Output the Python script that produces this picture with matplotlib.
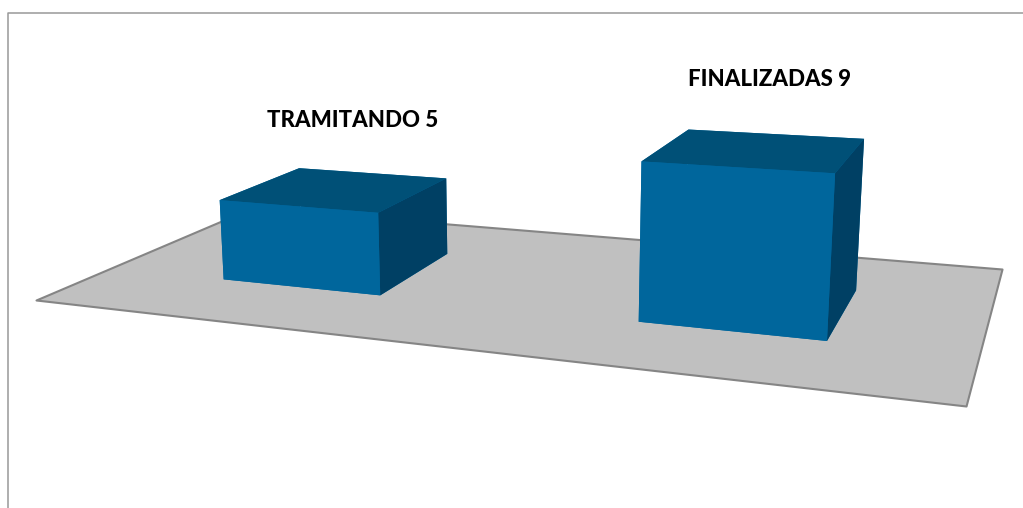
import numpy as np
import matplotlib
matplotlib.use("Agg")
import matplotlib.pyplot as plt
from matplotlib.lines import Line2D
from mpl_toolkits.mplot3d.art3d import Poly3DCollection

categories = ["TRAMITANDO", "FINALIZADAS"]
values = [5, 9]
bar_left = [0.157, 0.66]
bar_width = [0.203, 0.195]
bar_depth = (0.3, 0.4)

FACE_COLORS = ["#00669C", "#005077", "#00669C", "#00669C", "#00669C", "#004064"]  # -z +z -y +y -x +x

W, H = 1023, 508
fig = plt.figure(figsize=(W / 100, H / 100), dpi=100)

# square axes wider than the figure, so nothing gets clipped
ax = fig.add_axes([0, (H - W) / 2 / H, 1, W / H], projection="3d")
ax.set_axis_off()
ax.patch.set_alpha(0)
ax.computed_zorder = False
ax.apply_aspect()

# camera of the original chart, in pixels: rows give u, v, w for (x, y, value, 1)
camera = np.array([
    [720.4, 279.1, -1.404, 36.0],
    [17.9, -39.9, -17.03, 300.0],
    [-0.217, 0.2504, -0.00264, 1.0],
])

# pixels -> the 2d view coordinates mplot3d draws in
inv = ax.transData.inverted()
p0 = inv.transform((0, H))
p1 = inv.transform((W, 0))
sx = (p1[0] - p0[0]) / W
sy = (p1[1] - p0[1]) / H
M = np.array([
    sx * camera[0] + p0[0] * camera[2],
    sy * camera[1] + p0[1] * camera[2],
    [-0.1, 1.0, -0.01, 0.0],  # depth, only for sorting the faces
    camera[2],
])
ax.get_proj = lambda: M

floor = [[(0, 0, 0), (1, 0, 0), (1, 1, 0), (0, 1, 0)]]
floor_poly = Poly3DCollection(floor, facecolor="#C0C0C0", edgecolor="#858585", linewidth=1.5, zorder=1)
floor_poly.set_clip_on(False)
ax.add_collection3d(floor_poly)

for i, (left, wid, val) in enumerate(zip(bar_left, bar_width, values)):
    bars = ax.bar3d([left], [bar_depth[0]], [0], [wid], [bar_depth[1]], [val],
                    color=FACE_COLORS, shade=False, zorder=2 + i)
    bars.set_clip_on(False)

# data labels sit above the bars
fig.text(353 / W, 1 - 120.5 / H, f"{categories[0]} {values[0]}", family="Lato", weight=900,
         fontsize=16, ha="center", va="center", color="black")
fig.text(770 / W, 1 - 79 / H, f"{categories[1]} {values[1]}", family="Lato", weight=900,
         fontsize=16, ha="center", va="center", color="black")

# chart frame, cut off at the top right
fig.add_artist(Line2D([7.5 / W, 7.5 / W, 1], [0, 1 - 12.5 / H, 1 - 12.5 / H], color="#999999", lw=1.1))

fig.savefig("out.png", dpi=100)
